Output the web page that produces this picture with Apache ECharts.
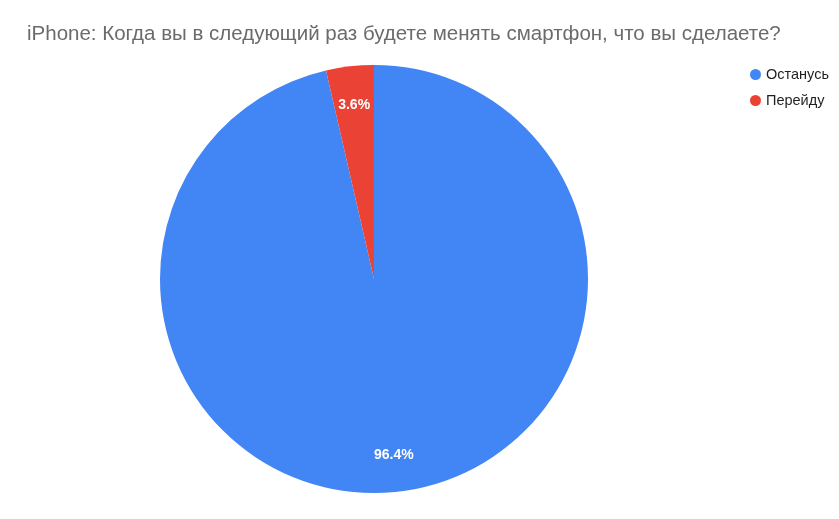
<!DOCTYPE html>
<html>
<head>
<meta charset="utf-8">
<script src="https://cdn.jsdelivr.net/npm/echarts@6/dist/echarts.min.js"></script>
<style>
    html, body { margin: 0; padding: 0; background: #fff; }
    #chart { width: 839px; height: 519px; }
</style>
</head>
<body>
<div id="chart"></div>
<script>
// 数据
const titleText = 'iPhone: Когда вы в следующий раз будете менять смартфон, что вы сделаете?';
const answers = ['Останусь', 'Перейду'];
const shares = [96.4, 3.6];
const sliceColors = ['#4285F4', '#EA4335'];

const pieData = answers.map((name, index) => {
    return {
        name: name,
        value: shares[index],
        itemStyle: { color: sliceColors[index] }
    };
});

const myChart = echarts.init(document.getElementById('chart'));

const option = {
    animation: false,
    title: {
        text: titleText,
        left: 22,
        top: 19,
        textStyle: {
            fontFamily: 'Liberation Sans',
            fontSize: 20.5,
            fontWeight: 'normal',
            color: '#6b6b6b'
        }
    },
    legend: {
        data: answers,
        orient: 'vertical',
        left: 745,
        top: 62,
        icon: 'circle',
        itemWidth: 11,
        itemHeight: 11,
        itemGap: 11,
        textStyle: {
            fontFamily: 'Liberation Sans',
            fontSize: 14.5,
            color: '#1f1f1f'
        }
    },
    series: [
        {
            name: 'slices',
            type: 'pie',
            center: [374, 279],
            radius: 214,
            startAngle: 90,
            clockwise: true,
            label: { show: false },
            labelLine: { show: false },
            emphasis: { disabled: true },
            data: pieData
        },
        {
            // только для подписей — кольцо с прозрачной заливкой
            name: 'labels',
            type: 'pie',
            silent: true,
            center: [374, 280],
            radius: [132, 214],
            startAngle: 90,
            clockwise: true,
            itemStyle: { color: 'rgba(0,0,0,0)' },
            label: {
                show: true,
                position: 'inside',
                formatter: '{c}%',
                color: '#fff',
                fontFamily: 'Liberation Sans',
                fontSize: 14,
                fontWeight: 'bold'
            },
            labelLine: { show: false },
            emphasis: { disabled: true },
            data: answers.map((name, index) => ({ name: name, value: shares[index] }))
        }
    ]
};

myChart.setOption(option);
</script>
</body>
</html>
